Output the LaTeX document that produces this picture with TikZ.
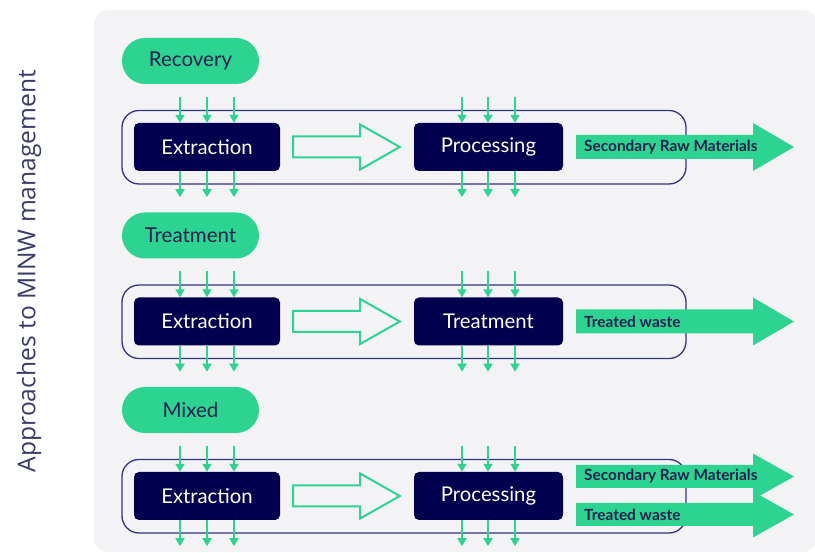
\documentclass[tikz,border=0pt]{standalone}
\usepackage{fontspec}
\setmainfont{Lato}
\newfontfamily\titlefont{Open Sans}
\usetikzlibrary{arrows.meta,calc}
\definecolor{bgpanel}{HTML}{F3F3F6}
\definecolor{mgreen}{HTML}{2DD390}
\definecolor{navy}{HTML}{02004F}
\definecolor{navytext}{HTML}{1E2150}
\definecolor{outlinec}{HTML}{34347A}
\definecolor{titlec}{HTML}{3A3D66}
\newcommand{\greenout}[5]{%
  \fill[mgreen] (576,#1-#4) -- (753,#1-#4) -- (753,#1-#5) -- (794,#1) -- (753,#1+#5) -- (753,#1+#4) -- (576,#1+#4) -- cycle;
  \node[arrtext] (#2) at (582,#1) {#3};}
\begin{document}
\begin{tikzpicture}[x=1pt,y=-1pt,
  pillst/.style={fill=mgreen, rounded corners=23pt, minimum width=137pt, minimum height=46pt, inner sep=0pt, text=navytext, font=\fontsize{20.5}{22}\selectfont},
  container/.style={draw=outlinec, line width=1.3pt, rounded corners=17pt, minimum width=564pt, minimum height=73.5pt, inner sep=0pt},
  boxst/.style={fill=navy, rounded corners=5pt, minimum height=48pt, inner sep=0pt, text=white, font=\fontsize{20.3}{22}\selectfont},
  hollow/.style={draw=mgreen, line width=2pt, line join=miter},
  garr/.style={draw=mgreen, line width=1.8pt, -{Triangle[length=8pt,width=9pt]}},
  arrtext/.style={anchor=west, inner sep=2pt, text=navytext, font=\bfseries\fontsize{15.4}{17}\selectfont},
  titlest/.style={rotate=90, text=titlec, font=\titlefont\fontsize{24.6}{26}\selectfont}]
\useasboundingbox (0,0) rectangle (815,553);
\fill[white] (0,0) rectangle (815,553);
\fill[bgpanel, rounded corners=14pt] (94,10) rectangle (817,552);
\node[titlest] (title) at (29,271) {Approaches to MINW management};
\foreach \c/\pill/\second/\i in {147/Recovery/Processing/1, 321.5/Treatment/Treatment/2, 496/Mixed/Processing/3}{
  \node[pillst] (pill\i) at (190.5,\c-86) {\pill};
  \node[container] (cont\i) at (404,\c+0.25) {};
  \node[boxst, minimum width=146pt] (ext\i) at (207,\c) {Extraction};
  \node[boxst, minimum width=149pt] (proc\i) at (488.5,\c) {\second};
  \draw[hollow] ($(ext\i.east)+(13,-10.5)$) -- ($(ext\i.east)+(80,-10.5)$) -- ($(ext\i.east)+(80,-22.5)$)
     -- ($(proc\i.west)+(-14,0)$) -- ($(ext\i.east)+(80,22.5)$) -- ($(ext\i.east)+(80,10.5)$)
     -- ($(ext\i.east)+(13,10.5)$) -- cycle;
  \foreach \dx in {-27,0,27}{
    \draw[garr] ([xshift=\dx pt, yshift=26pt]ext\i.north) -- ([xshift=\dx pt]ext\i.north);
    \draw[garr] ([xshift=\dx pt]ext\i.south) -- ([xshift=\dx pt, yshift=-26pt]ext\i.south);
  }
  \foreach \dx in {-26.5,-0.5,26.5}{
    \draw[garr] ([xshift=\dx pt, yshift=26pt]proc\i.north) -- ([xshift=\dx pt]proc\i.north);
    \draw[garr] ([xshift=\dx pt]proc\i.south) -- ([xshift=\dx pt, yshift=-26pt]proc\i.south);
  }
}
\greenout{147}{out1}{Secondary Raw Materials}{12}{24}
\greenout{321.5}{out2}{Treated waste}{12}{24}
\greenout{476.5}{out3}{Secondary Raw Materials}{11.5}{23}
\greenout{514.5}{out4}{Treated waste}{11.5}{23}
\end{tikzpicture}
\end{document}
